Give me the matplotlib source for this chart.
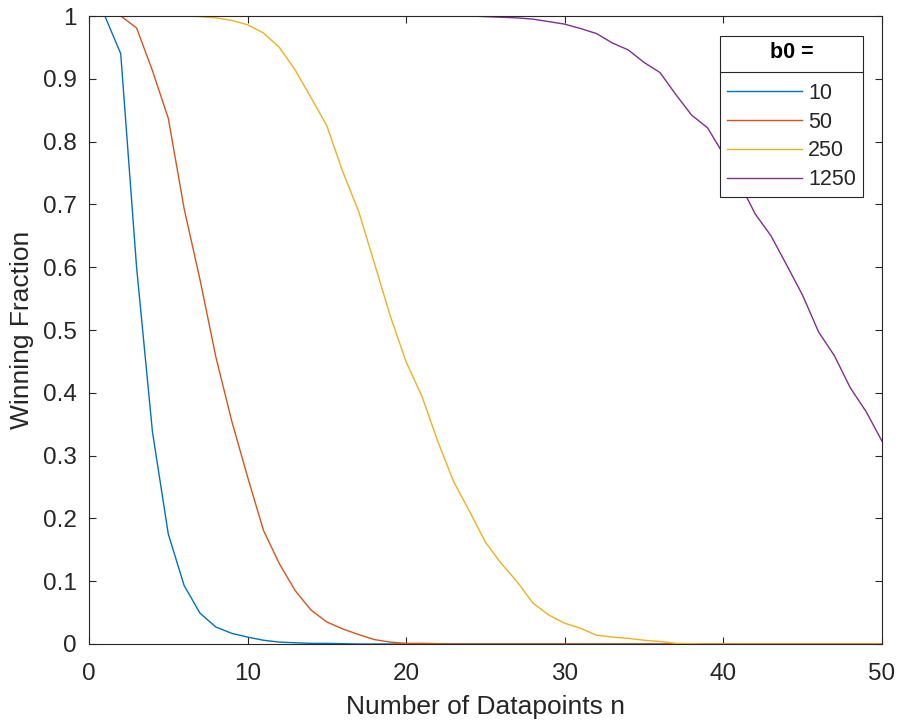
import matplotlib
matplotlib.use('Agg')
import matplotlib.pyplot as plt
from matplotlib.ticker import FuncFormatter

plt.rcParams['font.family'] = ['Liberation Sans', 'DejaVu Sans']

# number of datapoints
n = list(range(1, 51))

# winning fraction for each b0
b0_labels = ['10', '50', '250', '1250']

frac_10 = [1.0, 0.94, 0.60, 0.338, 0.175, 0.093, 0.049, 0.027, 0.017, 0.011,
           0.006, 0.003, 0.002, 0.001, 0.001, 0.0005] + [0.0] * 34

frac_50 = [1.0, 1.0, 0.981, 0.913, 0.837, 0.693, 0.58, 0.457, 0.355, 0.266,
           0.181, 0.128, 0.085, 0.054, 0.035, 0.024, 0.015, 0.007, 0.003, 0.001,
           0.001, 0.0005] + [0.0] * 28

frac_250 = [1.0, 1.0, 1.0, 1.0, 1.0, 1.0, 0.999, 0.997, 0.993, 0.986,
            0.973, 0.95, 0.914, 0.87, 0.825, 0.752, 0.689, 0.606, 0.522, 0.449,
            0.394, 0.322, 0.258, 0.211, 0.162, 0.128, 0.099, 0.065, 0.046, 0.033,
            0.025, 0.014, 0.011, 0.009, 0.006, 0.004, 0.001, 0.0005] + [0.0] * 12

frac_1250 = [1.0] * 24 + [0.999, 0.998, 0.997, 0.995, 0.991, 0.987,
                          0.98, 0.972, 0.957, 0.946, 0.926, 0.91, 0.875, 0.842, 0.822, 0.78,
                          0.735, 0.685, 0.65, 0.603, 0.555, 0.497, 0.459, 0.408, 0.37, 0.323]

colors = ['#0072BD', '#D95319', '#EDB120', '#7E2F8E']
txt = '#262626'

fig = plt.figure(figsize=(8.99, 7.21), dpi=100)
ax = fig.add_axes([89 / 899, 1 - 644 / 721, 793 / 899, 628 / 721])

for y, c, lab in zip([frac_10, frac_50, frac_250, frac_1250], colors, b0_labels):
    ax.plot(n, y, color=c, lw=1.0, label=lab)

ax.set_xlim(0, 50)
ax.set_ylim(0, 1)
ax.set_xticks(range(0, 51, 10))
ax.set_yticks([i / 10 for i in range(11)])
ax.yaxis.set_major_formatter(FuncFormatter(lambda v, p: ('%g' % round(v, 1))))

for s in ax.spines.values():
    s.set_color(txt)
    s.set_linewidth(0.8)
ax.tick_params(direction='in', top=True, right=True, length=5, width=0.8,
               color=txt, labelcolor=txt, labelsize=17.5)
ax.tick_params(axis='y', pad=9)
ax.tick_params(axis='x', pad=14)

ax.set_xlabel('Number of Datapoints n', fontsize=19, color=txt, labelpad=7)
ax.set_ylabel('Winning Fraction', fontsize=19, color=txt, labelpad=6)

leg = ax.legend(title='b0 =', loc='upper right',
                bbox_to_anchor=((862.7 - 89) / 793, (644 - 36) / 628),
                fontsize=15.5, title_fontproperties={'weight': 'bold', 'size': 15.5},
                fancybox=False, edgecolor=txt, framealpha=1, handlelength=3.5,
                handletextpad=0.3, labelspacing=0.36, borderpad=0.3,
                borderaxespad=0)
leg.get_frame().set_linewidth(0.8)
for t in leg.get_texts():
    t.set_color(txt)
leg.get_title().set_color('black')
# more room between the title and the entries
leg._legend_box.sep = 14

# separator line under the legend title, like the MATLAB legend
fig.canvas.draw()
r = fig.canvas.get_renderer()
fb = leg.get_frame().get_window_extent(r)
tb = leg.get_title().get_window_extent(r)
eb = leg.get_texts()[0].get_window_extent(r)
ysep = (tb.y0 + eb.y1) / 2 + 1
inv = fig.transFigure.inverted()
x0, y0 = inv.transform((fb.x0, ysep))
x1, _ = inv.transform((fb.x1, ysep))
fig.add_artist(plt.Line2D([x0, x1], [y0, y0], color=txt, lw=0.8))

plt.savefig('out.png', dpi=100)
plt.close(fig)
